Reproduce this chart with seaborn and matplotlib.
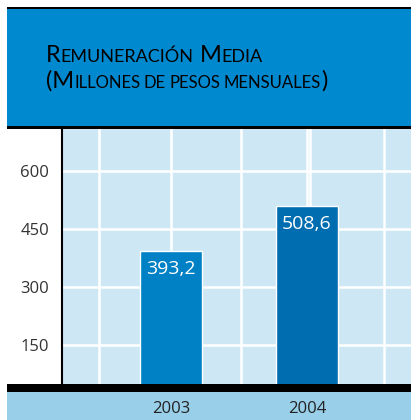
import numpy as np
import pandas as pd
import matplotlib
matplotlib.use('Agg')
import matplotlib.pyplot as plt
from matplotlib.patches import Rectangle
import seaborn as sns

# data
years = ['2003', '2004']
remuneracion = [393.2, 508.6]
bar_colors = ['#0080c5', '#006db1']
y_ticks = [150, 300, 450, 600]

W, H = 411, 420

sns.set_style('white')
plt.rcParams['font.family'] = ['Open Sans', 'DejaVu Sans']


def fx(x):
    return x / W


def fy(y):
    return 1 - y / H


fig = plt.figure(figsize=(W / 100, H / 100), dpi=100)
fig.patch.set_facecolor('white')

# header + bottom band
def rect(x0, y0, x1, y1, color):
    fig.add_artist(Rectangle((fx(x0), fy(y1)), fx(x1) - fx(x0), fy(y0) - fy(y1),
                             transform=fig.transFigure, color=color, lw=0, zorder=0))

rect(7, 7, W, 9, 'black')
rect(7, 9, W, 126, '#0089cf')
rect(7, 126, W, 128.5, 'black')
rect(7, 384, W, 392, 'black')
rect(7, 392, W, H, '#9acfea')

ax = fig.add_axes([fx(62), fy(384), fx(W) - fx(62), fy(128.5) - fy(384)])
ax.set_facecolor('#cde7f5')

df = pd.DataFrame({'year': years, 'valor': remuneracion})
sns.barplot(data=df, x='year', y='valor', hue='year', palette=bar_colors,
            width=0.456, legend=False, ax=ax, saturation=1, zorder=3)

ax.set_ylim(50, 710)
ax.set_xlim(-0.80, 1.765)
ax.set_yticks(y_ticks)
ax.set_xticks(range(len(years)))
ax.set_xticks([-0.53, 0.515, 1.02, 1.57], minor=True)
ax.set_xlabel('')
ax.set_ylabel('')
ax.tick_params(axis='y', length=0, pad=9.4, labelsize=12, labelcolor='#333333')
ax.tick_params(axis='x', which='both', length=0, pad=12, labelsize=12, labelcolor='#222222')
ax.grid(True, axis='y', color='white', lw=1.8)
ax.grid(True, axis='x', which='both', color='white', lw=1.8)
ax.set_axisbelow(True)
for s in ['top', 'right', 'bottom']:
    ax.spines[s].set_visible(False)
ax.spines['left'].set_color('black')
ax.spines['left'].set_linewidth(1.5)

for cont in ax.containers:
    labels = [f'{v:.1f}'.replace('.', ',') for v in cont.datavalues]
    ax.bar_label(cont, labels=labels, padding=-19, color='white', fontsize=14)

# title in small caps
renderer = fig.canvas.get_renderer()


def smallcaps(x, ybase, parts):
    for s, size, gap in parts:
        t = fig.text(fx(x), fy(ybase), s, fontsize=size, va='baseline', ha='left',
                     color='black', family=['Lato', 'DejaVu Sans'],
                     transform=fig.transFigure)
        x = t.get_window_extent(renderer).x1 + gap


smallcaps(46, 61.5, [('R', 17, 0), ('EMUNERACIÓN', 13, 6), ('M', 17, 0), ('EDIA', 13, 0)])
smallcaps(46, 87.5, [('(M', 17, 0), ('ILLONES', 12, 3.5), ('DE', 12, 3.5), ('PESOS', 12, 3.5),
                     ('MENSUALES', 12, 0), (')', 17, 0)])

fig.savefig('out.png', dpi=100)
